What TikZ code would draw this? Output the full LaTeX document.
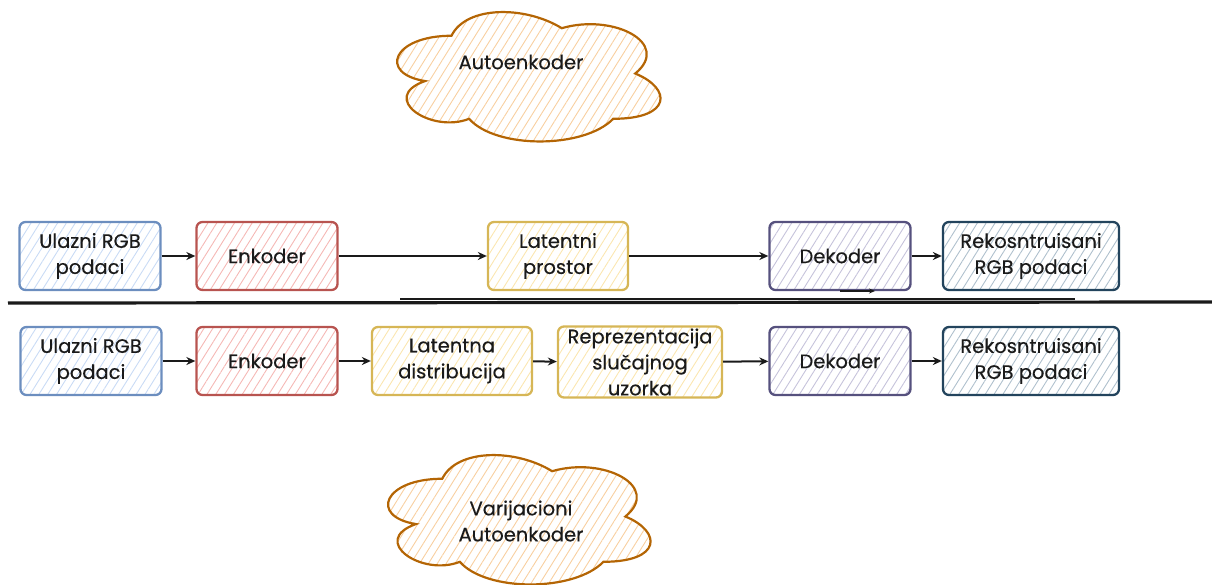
\documentclass[tikz,border=0pt]{standalone}
\usepackage{fontspec}
\setmainfont{Poppins}[FakeBold=0.35]
\usetikzlibrary{patterns.meta,arrows.meta}

\definecolor{blueline}{HTML}{6C8EBF}\definecolor{bluefill}{HTML}{C9DBF5}
\definecolor{redline}{HTML}{B85450}\definecolor{redfill}{HTML}{F5B8B5}
\definecolor{yelline}{HTML}{D6B656}\definecolor{yelfill}{HTML}{FBE6B0}
\definecolor{purline}{HTML}{56517E}\definecolor{purfill}{HTML}{C6C3DB}
\definecolor{navyline}{HTML}{23445D}\definecolor{navyfill}{HTML}{AFC0CD}
\definecolor{cloudline}{HTML}{B46504}\definecolor{cloudfill}{HTML}{F8CFA0}
\definecolor{ink}{HTML}{1A1A1A}

\tikzset{
  hatch/.style={pattern={Lines[angle=58,distance=7.5pt,line width=0.9pt]}, pattern color=#1},
  label text/.style={text=ink, align=center, font=\fontsize{19.5}{26}\selectfont},
  stage/.style 2 args={rectangle, rounded corners=6pt, draw=#1, hatch=#2,
    line width=2.3pt, minimum width=141pt, minimum height=68pt,
    label text, inner sep=2pt},
  flow/.style={draw=ink, line width=2pt, -{Stealth[length=9pt,width=8pt]}},
  puff/.style={draw=cloudline, line width=2.2pt, hatch=cloudfill},
}

% cloud outline inside the unit box (0,0)-(1,1), y pointing down
\newcommand\cloudpath{%
  (0.25,0.25) .. controls (0.05,0.25) and (0,0.5) .. (0.16,0.55)
  .. controls (0,0.66) and (0.18,0.9) .. (0.31,0.8)
  .. controls (0.4,1) and (0.7,1) .. (0.8,0.8)
  .. controls (1,0.8) and (1,0.6) .. (0.875,0.5)
  .. controls (1,0.3) and (0.8,0.1) .. (0.625,0.2)
  .. controls (0.5,0.05) and (0.3,0.05) .. (0.25,0.25) -- cycle}

\begin{document}
\begin{tikzpicture}[x=1pt,y=-1pt]
\useasboundingbox (0,0) rectangle (1212,584);
\clip (0,0) rectangle (1212,584);

% title clouds
\begin{scope}[shift={(378,-2)}, x=294pt, y=-151pt]
  \path[puff] \cloudpath;
\end{scope}
\node[label text] (aetext) at (521,62) {Autoenkoder};

\begin{scope}[shift={(369,441)}, x=293pt, y=-151pt]
  \path[puff] \cloudpath;
\end{scope}
\node[label text] (vaetext) at (521,521) {Varijacioni\\Autoenkoder};

% autoencoder row
\node[stage={blueline}{bluefill}] (in1) at (90,256) {Ulazni RGB\\podaci};
\node[stage={redline}{redfill}] (enc1) at (267,256) {Enkoder};
\node[stage={yelline}{yelfill}, minimum width=140pt] (lat1) at (558,256) {Latentni\\prostor};
\node[stage={purline}{purfill}] (dec1) at (840,256) {Dekoder};
\node[stage={navyline}{navyfill}, minimum width=176pt] (out1) at (1031,256) {Rekosntruisani\\RGB podaci};

\draw[flow] (in1) -- (enc1);
\draw[flow] (enc1) -- (lat1);
\draw[flow] (lat1) -- (dec1);
\draw[flow] (dec1) -- (out1);

% stray stroke under the decoder
\coordinate (sa) at (840,291);
\coordinate (sb) at (875,291);
\draw[draw=ink, line width=1.4pt, -{Stealth[length=6pt,width=5pt]}] (sa) -- (sb);

% separator between the two pipelines
\coordinate (la) at (8,303);
\coordinate (lb) at (1212,302);
\coordinate (lc) at (400,299);
\coordinate (ld) at (1075,299);
\draw[ink, line width=3.2pt] (la) -- (lb);
\draw[ink, line width=1.4pt] (lc) -- (ld);

% variational autoencoder row
\node[stage={blueline}{bluefill}] (in2) at (91,361) {Ulazni RGB\\podaci};
\node[stage={redline}{redfill}] (enc2) at (267,361) {Enkoder};
\node[stage={yelline}{yelfill}, minimum width=160pt] (dist) at (452,361) {Latentna\\distribucija};
\node[stage={yelline}{yelfill}, minimum width=164pt, minimum height=70pt] (samp) at (640,362) {Reprezentacija\\slučajnog\\uzorka};
\node[stage={purline}{purfill}] (dec2) at (840,361) {Dekoder};
\node[stage={navyline}{navyfill}, minimum width=176pt] (out2) at (1031,361) {Rekosntruisani\\RGB podaci};

\draw[flow] (in2) -- (enc2);
\draw[flow] (enc2) -- (dist);
\draw[flow] (dist) -- (samp);
\draw[flow] (samp) -- (dec2);
\draw[flow] (dec2) -- (out2);
\end{tikzpicture}
\end{document}
